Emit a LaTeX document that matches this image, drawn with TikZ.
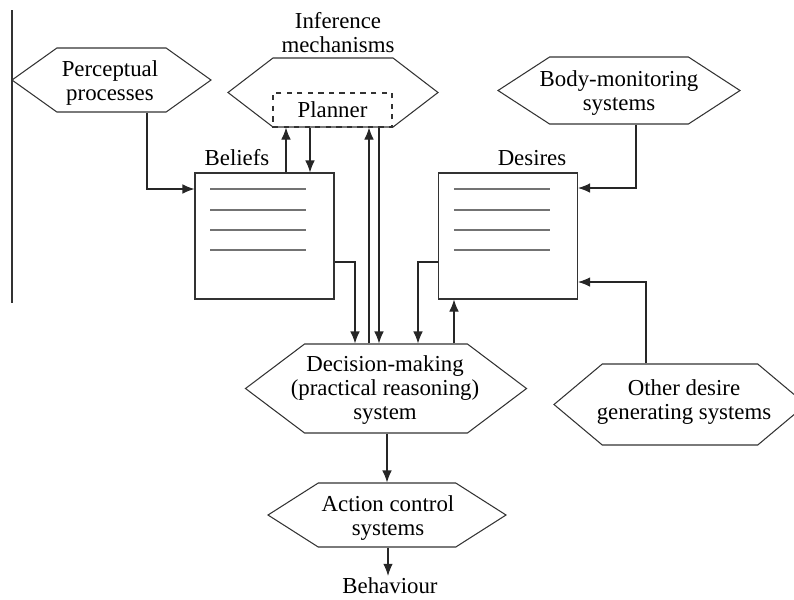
\documentclass[tikz,border=0pt]{standalone}
\usepackage{fontspec}
\setmainfont{Liberation Serif}
\usepackage{tikz}
\usetikzlibrary{shapes.symbols,positioning,calc,arrows.meta}

\tikzset{
    hexa/.style={signal, signal to=west and east, draw=black!80, line width=0.6pt, inner sep=0pt},
    hexatext/.style={align=center, inner sep=0pt},
    store/.style={draw=black!80, line width=0.6pt, minimum width=2.78cm, minimum height=2.52cm},
    arr/.style={-{Latex[length=2.4mm,width=1.9mm]}, line width=0.6pt, draw=black!85},
    listline/.style={draw=black!55, line width=0.8pt}
}

\begin{document}
\begin{tikzpicture}[x=0.2mm, y=-0.2mm, font=\fontsize{13}{13.6}\selectfont]
    \useasboundingbox (0,0) rectangle (794,599);

    % hexagons (text set apart so that it can reach into the points)
    \node[hexa, minimum width=3.98cm, minimum height=1.28cm, signal pointer angle=71] (perc) at (111.5,80) {};
    \node[hexatext] (perctext) at (110,83) {Perceptual\\processes};
    \node[hexa, minimum width=4.2cm, minimum height=1.38cm, signal pointer angle=75] (inf) at (333,92.5) {};
    \node[align=center] (inftitle) at (338,33) {Inference\\mechanisms};
    \node[draw=black!80, dashed, line width=0.6pt, minimum width=2.38cm, minimum height=0.68cm, inner sep=0pt] (plan) at (332.5,110) {Planner};
    \node[hexa, minimum width=4.84cm, minimum height=1.34cm, signal pointer angle=66] (body) at (619,90.5) {};
    \node[hexatext] (bodytext) at (619,93) {Body-monitoring\\systems};
    \node[hexa, minimum width=5.62cm, minimum height=1.78cm, signal pointer angle=74] (dec) at (386,388.5) {};
    \node[hexatext] (dectext) at (385,390) {Decision-making\\(practical reasoning)\\system};
    \node[hexa, minimum width=5.04cm, minimum height=1.62cm, signal pointer angle=80] (oth) at (680,404.5) {};
    \node[hexatext] (othtext) at (684,402) {Other desire\\generating systems};
    \node[hexa, minimum width=4.76cm, minimum height=1.28cm, signal pointer angle=65] (act) at (387,515) {};
    \node[hexatext] (acttext) at (388,518) {Action control\\systems};
    \node[inner sep=1pt] (beh) at (390,586) {Behaviour};

    % belief and desire stores
    \node[store] (bel) at (264.5,236) {};
    \node (beltitle) at (237,158) {Beliefs};
    \node[store] (des) at (508,236) {};
    \node (destitle) at (532,158) {Desires};
    \foreach \yy in {189,210,230,250} {
        \draw[listline] ($(bel.west |- 0,\yy)+(16,0)$) -- ++(96,0);
        \draw[listline] ($(des.west |- 0,\yy)+(16,0)$) -- ++(96,0);
    }

    % left margin rule
    \draw[draw=black!80, line width=0.6pt] (12,10) -- (12,303);

    % connectors
    \draw[arr] (perc.south -| 147,0) |- (bel.west |- 0,189);
    \draw[arr] (bel.north -| 286,0) -- (plan.south -| 286,0);
    \draw[arr] (plan.south -| 310,0) -- (bel.north -| 310,0);
    \draw[arr] (bel.east |- 0,262) -| (dec.north -| 355,0);
    \draw[arr] (dec.north -| 369,0) -- (plan.south -| 369,0);
    \draw[arr] (plan.south -| 379,0) -- (dec.north -| 379,0);
    \draw[arr] (des.west |- 0,262) -| (dec.north -| 418,0);
    \draw[arr] (dec.north -| 454,0) -- (des.south -| 454,0);
    \draw[arr] (body.south -| 636,0) |- (des.east |- 0,188);
    \draw[arr] (oth.north -| 646,0) |- (des.east |- 0,282);
    \draw[arr] (dec.south -| 387,0) -- (act.north -| 387,0);
    \draw[arr] (act.south -| 388,0) -- (beh.north -| 388,0);
\end{tikzpicture}
\end{document}
